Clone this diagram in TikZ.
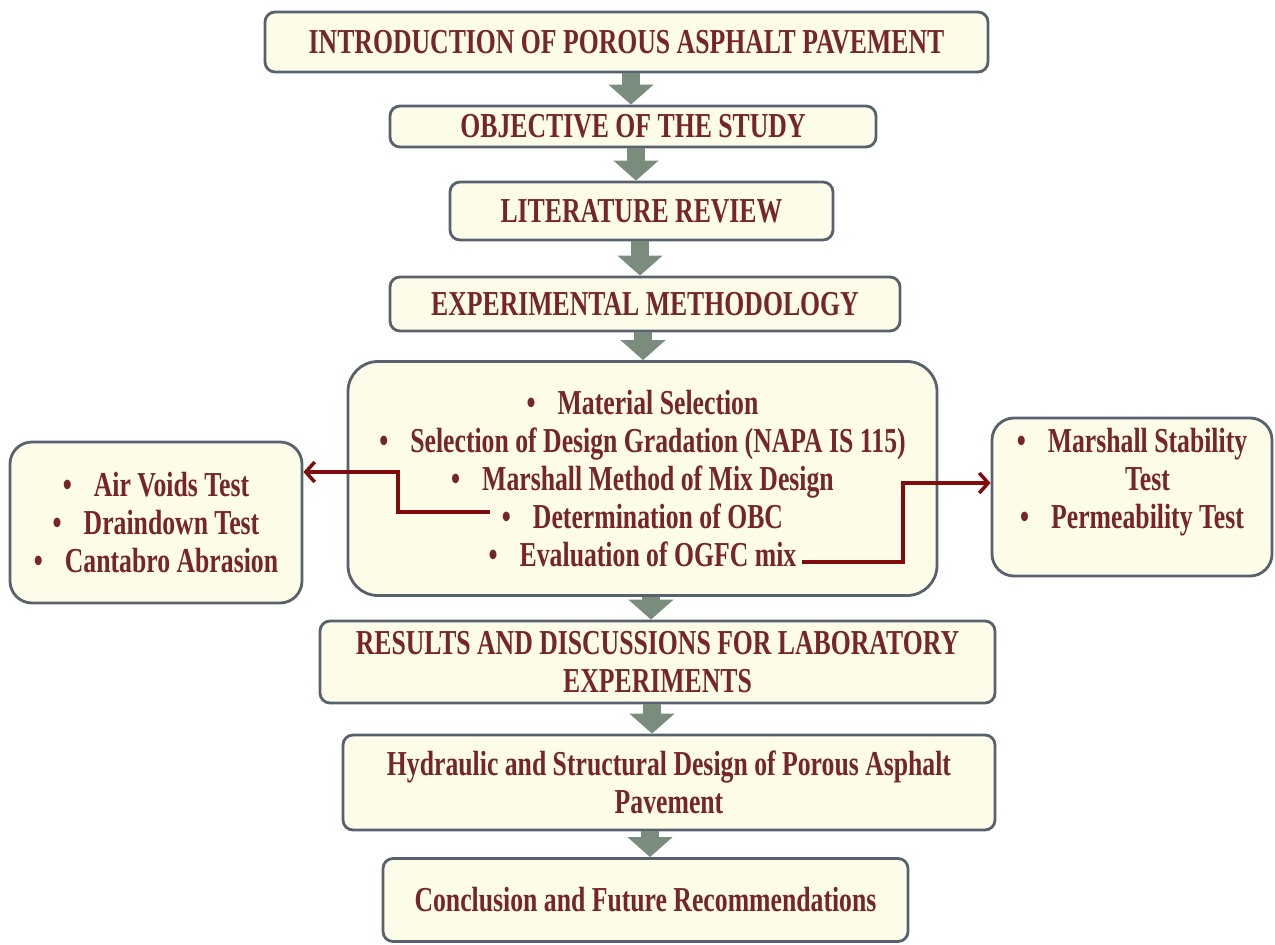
\documentclass[tikz,border=0pt]{standalone}
\usepackage{fontspec}
\newfontfamily\flowfont{Liberation Serif}[FakeStretch=0.735]
\usetikzlibrary{arrows.meta}

\definecolor{cream}{RGB}{253,252,233}
\definecolor{edge}{RGB}{88,98,110}
\definecolor{ink}{RGB}{118,38,38}
\definecolor{flowgreen}{RGB}{122,140,124}
\definecolor{linkred}{RGB}{130,12,12}

\newcommand{\bul}{\textbullet\hspace{22pt}}

\tikzset{
  stage/.style={draw=edge, line width=2.8pt, fill=cream, rounded corners=10pt,
    inner sep=0pt, align=center, text=ink,
    font=\flowfont\bfseries\fontsize{35}{38}\selectfont},
  panel/.style={stage, rounded corners=22pt},
  flow/.style={draw=flowgreen, line width=18pt,
    -{Triangle[width=44pt,length=20pt]}},
  link/.style={draw=linkred, line width=3.5pt, line join=miter,
    -{Straight Barb[length=9pt,width=20pt]}},
  caption/.style={inner sep=0pt, align=center, text=ink,
    font=\flowfont\bfseries\fontsize{35}{38}\selectfont}
}

\begin{document}
\begin{tikzpicture}[x=1pt,y=-1pt]
\useasboundingbox[fill=white] (0,0) rectangle (1275,945);

% main column of stages
\node[stage, minimum width=723pt, minimum height=60pt] (intro) at (626.5,42)
  {INTRODUCTION OF POROUS ASPHALT PAVEMENT};
\node[stage, minimum width=486pt, minimum height=41pt] (obj) at (633,126.5)
  {OBJECTIVE OF THE STUDY};
\node[stage, minimum width=383pt, minimum height=58pt] (lit) at (641.5,211)
  {LITERATURE REVIEW};
\node[stage, minimum width=510pt, minimum height=54pt] (exp) at (645,304)
  {EXPERIMENTAL METHODOLOGY};
\node[panel, rounded corners=30pt, minimum width=589pt, minimum height=234pt] (mid) at (642.5,478.5)
  {\bul Material Selection\\
   \bul Selection of Design Gradation (NAPA IS 115)\\
   \bul Marshall Method of Mix Design\\
   \bul Determination of OBC\\
   \bul Evaluation of OGFC mix};
\node[stage, minimum width=675pt, minimum height=82pt] (res) at (657.5,662)
  {RESULTS AND DISCUSSIONS FOR LABORATORY\\ EXPERIMENTS};
\node[stage, minimum width=652pt, minimum height=95pt] (hyd) at (669,782.5)
  {Hydraulic and Structural Design of Porous Asphalt\\ Pavement};
\node[stage, minimum width=525pt, minimum height=83pt] (conc) at (645.5,900)
  {Conclusion and Future Recommendations};

% side panels
\node[panel, minimum width=292pt, minimum height=161pt] (tests) at (156,522.5)
  {\bul Air Voids Test\\ \bul Draindown Test\\ \bul Cantabro Abrasion};
\node[panel, minimum width=280pt, minimum height=158pt] (perf) at (1132,497) {};
\node[caption] (perftext) at (1132,482)
  {\bul Marshall Stability\\ \hphantom{\bul}Test\\ \bul Permeability Test};

% block arrows between stages
\draw[flow] ([xshift=4.5pt]intro.south) -- ([xshift=-2pt]obj.north);
\draw[flow] ([xshift=3pt]obj.south) -- ([xshift=-5.5pt]lit.north);
\draw[flow] ([xshift=-1.5pt]lit.south) -- ([xshift=-5pt]exp.north);
\draw[flow] ([xshift=-2pt]exp.south) -- ([xshift=0.5pt]mid.north);
\draw[flow] ([xshift=8.5pt]mid.south) -- ([xshift=-6.5pt]res.north);
\draw[flow] ([xshift=-5.5pt]res.south) -- ([xshift=-17pt]hyd.north);
\draw[flow] ([xshift=-19pt]hyd.south) -- ([xshift=4.5pt]conc.north);

% links from the methodology items to the test panels
\coordinate (obc) at (490,512);
\coordinate (ogfc) at (802,562);
\draw[link] (obc) -- (398,512) |- ([yshift=50.5pt]tests.east);
\draw[link] (ogfc) -- (903,562) |- ([yshift=14pt]perf.west);
\end{tikzpicture}
\end{document}
